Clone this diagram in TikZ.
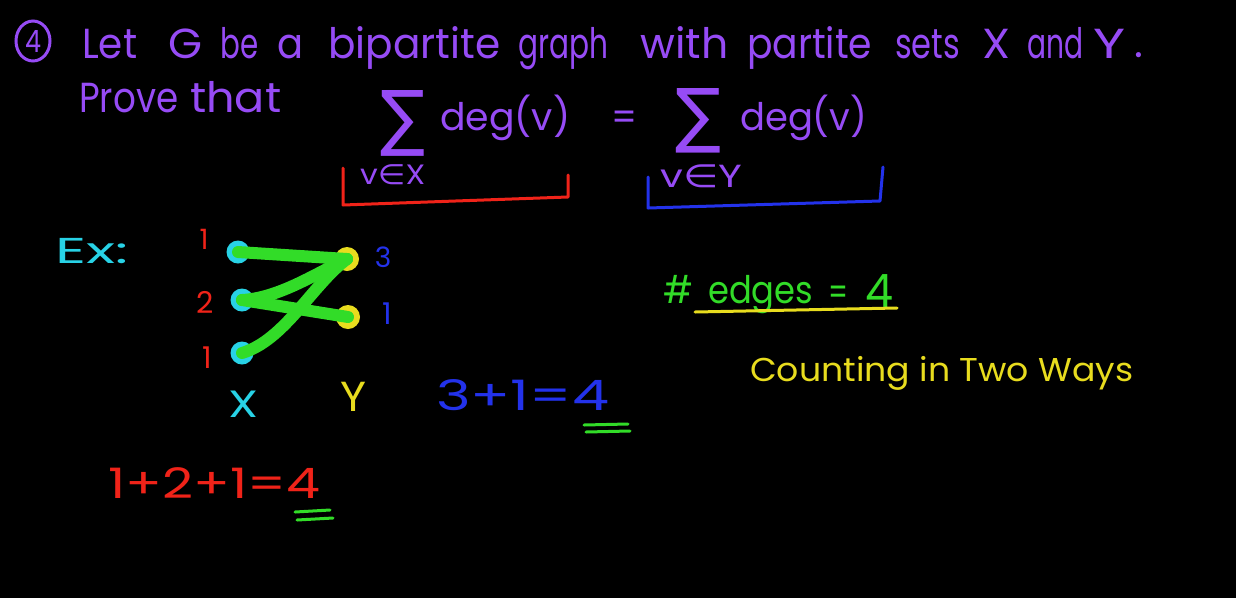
\documentclass[tikz,border=0pt]{standalone}
\usepackage{fontspec}
\usepackage{graphicx}
\usetikzlibrary{shapes.geometric}
\setmainfont{Poppins}
\newfontfamily\symfont{DejaVu Sans}
\definecolor{hpurple}{RGB}{150,75,245}
\definecolor{hred}{RGB}{240,35,25}
\definecolor{hblue}{RGB}{35,50,235}
\definecolor{hcyan}{RGB}{40,210,230}
\definecolor{hgreen}{RGB}{50,220,40}
\definecolor{hyellow}{RGB}{232,220,30}
\newcommand{\hfs}[1]{\fontsize{#1}{#1}\selectfont}
\newcommand{\fitw}[2]{\resizebox{#1pt}{\height}{#2}}
\newcommand{\fitwh}[3]{\resizebox{#1pt}{#2pt}{#3}}
\tikzset{
  txt/.style={inner sep=0pt, anchor=base west},
  ctr/.style={inner sep=0pt, anchor=center},
  pur/.style={text=hpurple},
  redt/.style={text=hred},
  bluet/.style={text=hblue},
  cyant/.style={text=hcyan},
  greent/.style={text=hgreen},
  yellowt/.style={text=hyellow},
  stroke/.style={line width=3pt, line cap=round, line join=round},
  xdot/.style={circle, fill=hcyan, minimum size=23pt, inner sep=0pt},
  ydot/.style={circle, fill=hyellow, minimum size=24pt, inner sep=0pt},
  edge/.style={draw=hgreen, line width=12pt, line cap=round},
}
\begin{document}
\begin{tikzpicture}[x=1pt,y=-1pt]
\fill[black] (0,0) rectangle (1236,598);
\useasboundingbox (0,0) rectangle (1236,598);

% problem number
\node[ellipse, draw=hpurple, line width=3pt, minimum width=34pt, minimum height=40pt, inner sep=0pt, text=hpurple, font=\hfs{28}] (num) at (33,41) {\fitwh{16}{22}{4}};

% line 1
\begin{scope}[every node/.style={txt, pur, font=\hfs{42}}]
\node (l1) at (82,58) {\fitw{55}{Let}};
\node (l2) at (168,58) {\fitw{34}{G}};
\node (l3) at (220,58) {\fitw{38}{be}};
\node (l4) at (277,58) {\fitw{26}{a}};
\node (l5) at (328,58) {\fitw{172}{bipartite}};
\node (l6) at (518,58) {\fitw{90}{graph}};
\node (l7) at (640,58) {\fitw{88}{with}};
\node (l8) at (747,58) {\fitw{125}{partite}};
\node (l9) at (895,58) {\fitw{65}{sets}};
\node (l10) at (982,58) {\fitw{28}{X}};
\node (l11) at (1027,58) {\fitw{56}{and}};
\node (l12) at (1093,58) {\fitw{32}{Y}};
\node (l13) at (1134,57) {.};
% line 2
\node (p1) at (79,112) {\fitw{99}{Prove}};
\node (p2) at (190,112) {\fitw{91}{that}};
\end{scope}
% sums
\begin{scope}[every node/.style={txt, pur, font=\hfs{38}}]
\node (d1) at (440,130) {\fitw{130}{deg(v)}};
\node (eq) at (611,130) {\fitw{26}{=}};
\node (d2) at (740,130) {\fitw{127}{deg(v)}};
\end{scope}
\node[pur, inner sep=0pt, anchor=north west] (s1) at (380,90) {\fitwh{45}{52}{\symfont ∑}};
\node[pur, inner sep=0pt, anchor=north west] (s2) at (675,88) {\fitwh{46}{51}{\symfont ∑}};

% index sets
\node[txt, pur, font=\hfs{28}] (ix) at (360,184) {\fitw{65}{v{\symfont ∈}X}};
\node[txt, pur, font=\hfs{32}] (iy) at (660,187) {\fitw{82}{v{\symfont ∈}Y}};
\coordinate (rb1) at (343,168);
\coordinate (rb2) at (343,205);
\coordinate (rb3) at (568,197);
\coordinate (rb4) at (568,175);
\draw[stroke, hred] (rb1) -- (rb2) -- (rb3) -- (rb4);
\coordinate (bb1) at (648,177);
\coordinate (bb2) at (648,208);
\coordinate (bb3) at (880,201);
\coordinate (bb4) at (883,167);
\draw[stroke, hblue] (bb1) -- (bb2) -- (bb3) -- (bb4);

% example
\node[txt, cyant, font=\hfs{36}] (ex) at (55,263) {\fitw{73}{Ex:}};
\node[ctr, redt, font=\hfs{28}] (n1) at (204,239) {1};
\node[ctr, redt, font=\hfs{30}] (n2) at (205,302) {2};
\node[ctr, redt, font=\hfs{30}] (n3) at (207,358) {1};
\node[ctr, bluet, font=\hfs{28}] (m1) at (383,257) {3};
\node[ctr, bluet, font=\hfs{30}] (m2) at (387,314) {1};
\node[xdot] (c1) at (238,252) {};
\node[xdot] (c2) at (242,300) {};
\node[xdot] (c3) at (242,353) {};
\node[ydot] (y1) at (347,259) {};
\node[ydot] (y2) at (348,317) {};
\draw[edge] (c1.center) -- (y1.center);
\draw[edge] (c2.center) .. controls (280,298) and (318,272) .. (y1.center);
\draw[edge] (c2.center) -- (y2.center);
\draw[edge] (c3.center) .. controls (285,340) and (312,285) .. (y1.center);
\node[ctr, cyant, font=\hfs{38}] (xl) at (243,404) {\fitw{30}{X}};
\node[ctr, yellowt, font=\hfs{42}] (yl) at (353,397) {\fitw{26}{Y}};

% sums of degrees
\node[txt, bluet, font=\hfs{42}] (sy) at (436,410) {\fitw{173}{3+1=4}};
\coordinate (gu1a) at (584,425); \coordinate (gu1b) at (628,424);
\coordinate (gu2a) at (586,432); \coordinate (gu2b) at (630,431);
\draw[stroke, hgreen] (gu1a) -- (gu1b);
\draw[stroke, hgreen] (gu2a) -- (gu2b);
\node[txt, redt, font=\hfs{42}] (sx) at (108,498) {\fitw{212}{1+2+1=4}};
\coordinate (gv1a) at (295,512); \coordinate (gv1b) at (330,510);
\coordinate (gv2a) at (297,520); \coordinate (gv2b) at (333,518);
\draw[stroke, hgreen] (gv1a) -- (gv1b);
\draw[stroke, hgreen] (gv2a) -- (gv2b);

% edges count
\begin{scope}[every node/.style={txt, greent, font=\hfs{38}}]
\node (h1) at (663,303) {\fitw{30}{\#}};
\node (h2) at (708,303) {\fitw{105}{edges}};
\node (h3) at (828,305) {\fitw{20}{=}};
\node[font=\hfs{46}] (h4) at (865,307) {\fitw{28}{4}};
\end{scope}
\coordinate (yu1) at (695,312);
\coordinate (yu2) at (897,308);
\draw[stroke, hyellow] (yu1) -- (yu2);
\node[txt, yellowt, font=\hfs{33}] (cnt) at (750,381) {\fitw{383}{Counting in Two Ways}};
\end{tikzpicture}
\end{document}
